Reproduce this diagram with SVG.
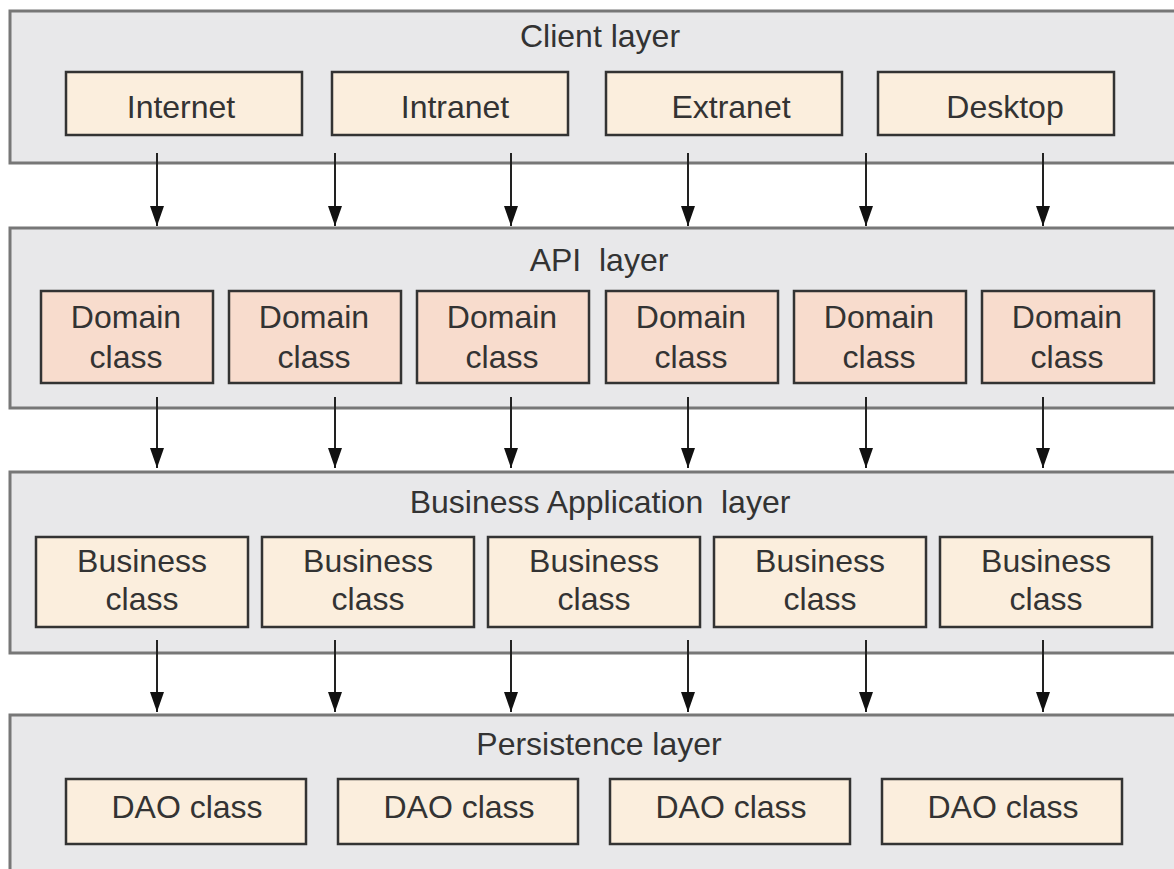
<svg xmlns="http://www.w3.org/2000/svg" width="1174" height="869" viewBox="0 0 1174 869">
<defs>
<style>
.layer{fill:#e8e8ea;stroke:#777;stroke-width:3}
.box{fill:#fbeedd;stroke:#333;stroke-width:2.5}
.dom{fill:#f8dccd;stroke:#333;stroke-width:2.5}
text{font-family:"Liberation Sans",Arial,sans-serif;font-size:32px;fill:#333;text-anchor:middle}
.conn line{stroke:#222;stroke-width:2}
</style>
<marker id="ah" viewBox="0 0 20 14" refX="20" refY="7" markerWidth="20" markerHeight="14" markerUnits="userSpaceOnUse" orient="auto">
<path d="M0,0 L20,7 L0,14 Z" fill="#111"/>
</marker>
</defs>
<rect width="1174" height="869" fill="#fff"/>

<g id="client-layer">
<rect class="layer" x="10" y="11" width="1180" height="152"/>
<text x="600" y="47">Client layer</text>
</g>
<g id="internet"><rect class="box" x="66" y="72" width="236" height="63"/><text x="181" y="118">Internet</text></g>
<g id="intranet"><rect class="box" x="332" y="72" width="236" height="63"/><text x="455" y="118">Intranet</text></g>
<g id="extranet"><rect class="box" x="606" y="72" width="236" height="63"/><text x="731" y="118">Extranet</text></g>
<g id="desktop"><rect class="box" x="878" y="72" width="236" height="63"/><text x="1005" y="118">Desktop</text></g>

<g id="api-layer">
<rect class="layer" x="10" y="228" width="1180" height="180"/>
<text x="599" y="271" xml:space="preserve">API  layer</text>
</g>
<g id="domain1"><rect class="dom" x="41" y="291" width="172" height="92"/><text x="126" y="328">Domain</text><text x="126" y="368">class</text></g>
<g id="domain2"><rect class="dom" x="229" y="291" width="172" height="92"/><text x="314" y="328">Domain</text><text x="314" y="368">class</text></g>
<g id="domain3"><rect class="dom" x="417" y="291" width="172" height="92"/><text x="502" y="328">Domain</text><text x="502" y="368">class</text></g>
<g id="domain4"><rect class="dom" x="606" y="291" width="172" height="92"/><text x="691" y="328">Domain</text><text x="691" y="368">class</text></g>
<g id="domain5"><rect class="dom" x="794" y="291" width="172" height="92"/><text x="879" y="328">Domain</text><text x="879" y="368">class</text></g>
<g id="domain6"><rect class="dom" x="982" y="291" width="172" height="92"/><text x="1067" y="328">Domain</text><text x="1067" y="368">class</text></g>

<g id="business-layer">
<rect class="layer" x="10" y="472" width="1180" height="181"/>
<text x="600" y="513" xml:space="preserve">Business Application  layer</text>
</g>
<g id="business1"><rect class="box" x="36" y="537" width="212" height="90"/><text x="142" y="572">Business</text><text x="142" y="610">class</text></g>
<g id="business2"><rect class="box" x="262" y="537" width="212" height="90"/><text x="368" y="572">Business</text><text x="368" y="610">class</text></g>
<g id="business3"><rect class="box" x="488" y="537" width="212" height="90"/><text x="594" y="572">Business</text><text x="594" y="610">class</text></g>
<g id="business4"><rect class="box" x="714" y="537" width="212" height="90"/><text x="820" y="572">Business</text><text x="820" y="610">class</text></g>
<g id="business5"><rect class="box" x="940" y="537" width="212" height="90"/><text x="1046" y="572">Business</text><text x="1046" y="610">class</text></g>

<g id="persistence-layer">
<rect class="layer" x="10" y="715" width="1180" height="170"/>
<text x="599" y="755">Persistence layer</text>
</g>
<g id="dao1"><rect class="box" x="66" y="779" width="240" height="65"/><text x="187" y="818">DAO class</text></g>
<g id="dao2"><rect class="box" x="338" y="779" width="240" height="65"/><text x="459" y="818">DAO class</text></g>
<g id="dao3"><rect class="box" x="610" y="779" width="240" height="65"/><text x="731" y="818">DAO class</text></g>
<g id="dao4"><rect class="box" x="882" y="779" width="240" height="65"/><text x="1003" y="818">DAO class</text></g>

<g id="connectors" class="conn">
<line x1="157" y1="153" x2="157" y2="226" marker-end="url(#ah)"/>
<line x1="335" y1="153" x2="335" y2="226" marker-end="url(#ah)"/>
<line x1="511" y1="153" x2="511" y2="226" marker-end="url(#ah)"/>
<line x1="688" y1="153" x2="688" y2="226" marker-end="url(#ah)"/>
<line x1="866" y1="153" x2="866" y2="226" marker-end="url(#ah)"/>
<line x1="1043" y1="153" x2="1043" y2="226" marker-end="url(#ah)"/>
<line x1="157" y1="397" x2="157" y2="468" marker-end="url(#ah)"/>
<line x1="335" y1="397" x2="335" y2="468" marker-end="url(#ah)"/>
<line x1="511" y1="397" x2="511" y2="468" marker-end="url(#ah)"/>
<line x1="688" y1="397" x2="688" y2="468" marker-end="url(#ah)"/>
<line x1="866" y1="397" x2="866" y2="468" marker-end="url(#ah)"/>
<line x1="1043" y1="397" x2="1043" y2="468" marker-end="url(#ah)"/>
<line x1="157" y1="640" x2="157" y2="712" marker-end="url(#ah)"/>
<line x1="335" y1="640" x2="335" y2="712" marker-end="url(#ah)"/>
<line x1="511" y1="640" x2="511" y2="712" marker-end="url(#ah)"/>
<line x1="688" y1="640" x2="688" y2="712" marker-end="url(#ah)"/>
<line x1="866" y1="640" x2="866" y2="712" marker-end="url(#ah)"/>
<line x1="1043" y1="640" x2="1043" y2="712" marker-end="url(#ah)"/>
</g>
</svg>
